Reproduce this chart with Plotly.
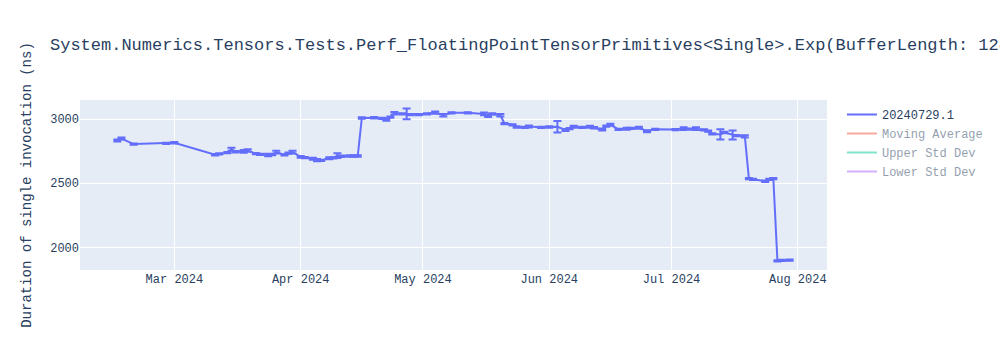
import plotly.graph_objects as go

dates = [
    "2024-02-16", "2024-02-17", "2024-02-20", "2024-02-28", "2024-03-01",
    "2024-03-11", "2024-03-12", "2024-03-14", "2024-03-15", "2024-03-16",
    "2024-03-18", "2024-03-19", "2024-03-21", "2024-03-22", "2024-03-24",
    "2024-03-25", "2024-03-26", "2024-03-28", "2024-03-29", "2024-03-30",
    "2024-04-01", "2024-04-02", "2024-04-04", "2024-04-05", "2024-04-06",
    "2024-04-08", "2024-04-09", "2024-04-10", "2024-04-11", "2024-04-13",
    "2024-04-14", "2024-04-15", "2024-04-16", "2024-04-19", "2024-04-21",
    "2024-04-22", "2024-04-23", "2024-04-24", "2024-04-26", "2024-04-27",
    "2024-04-28", "2024-04-30", "2024-05-02", "2024-05-04", "2024-05-06",
    "2024-05-08", "2024-05-12", "2024-05-16", "2024-05-17", "2024-05-18",
    "2024-05-20", "2024-05-21", "2024-05-23", "2024-05-24", "2024-05-26",
    "2024-05-27", "2024-05-30", "2024-06-01", "2024-06-03", "2024-06-05",
    "2024-06-06", "2024-06-07", "2024-06-09", "2024-06-11", "2024-06-12",
    "2024-06-14", "2024-06-15", "2024-06-16", "2024-06-18", "2024-06-20",
    "2024-06-21", "2024-06-23", "2024-06-25", "2024-06-27", "2024-07-02",
    "2024-07-04", "2024-07-06", "2024-07-07", "2024-07-09", "2024-07-10",
    "2024-07-11", "2024-07-13", "2024-07-14", "2024-07-16", "2024-07-17",
    "2024-07-19", "2024-07-20", "2024-07-21", "2024-07-24", "2024-07-25",
    "2024-07-26", "2024-07-27", "2024-07-28", "2024-07-30",
]

durations = [
    2832, 2848, 2805, 2810, 2815,
    2722, 2728, 2738, 2765, 2745,
    2748, 2755, 2730, 2725, 2720,
    2722, 2742, 2720, 2735, 2742,
    2705, 2700, 2690, 2680, 2678,
    2695, 2698, 2715, 2710, 2712,
    2712, 2712, 3008, 3010, 3005,
    2995, 3015, 3045, 3040, 3040,
    3035, 3035, 3040, 3050, 3030,
    3048, 3048, 3040, 3025, 3040,
    3030, 2965, 2955, 2938, 2935,
    2942, 2935, 2938, 2940, 2915,
    2925, 2940, 2935, 2940, 2932,
    2918, 2945, 2955, 2920, 2925,
    2928, 2932, 2905, 2920, 2918,
    2925, 2922, 2925, 2915, 2905,
    2885, 2880, 2895, 2875, 2870,
    2865, 2535, 2530, 2515, 2530,
    2535, 1895, 1898, 1900,
]

errors = [
    8, 8, 5, 5, 6,
    6, 5, 5, 12, 5,
    10, 10, 5, 5, 10,
    5, 10, 5, 5, 10,
    6, 5, 8, 8, 5,
    8, 5, 18, 5, 5,
    5, 5, 5, 5, 5,
    8, 5, 10, 5, 42,
    5, 5, 5, 8, 10,
    5, 5, 10, 10, 5,
    10, 5, 5, 5, 5,
    8, 5, 6, 45, 8,
    5, 8, 5, 8, 5,
    8, 5, 8, 5, 8,
    5, 8, 8, 5, 5,
    10, 5, 10, 5, 5,
    5, 40, 5, 35, 5,
    8, 5, 5, 6, 5,
    5, 5, 5, 5,
]

series_name = "20240729.1"
title_text = "System.Numerics.Tensors.Tests.Perf_FloatingPointTensorPrimitives<Single>.Exp(BufferLength: 128)"
y_title = "Duration of single invocation (ns)"

fig = go.Figure()
fig.add_trace(go.Scatter(
    x=dates, y=durations, mode="lines", name=series_name,
    line=dict(color="#636efa", width=2),
    error_y=dict(type="data", array=errors, visible=True, color="#636efa"),
))
fig.add_trace(go.Scatter(x=dates, y=durations, mode="lines", name="Moving Average",
                         line=dict(color="#EF553B"), visible="legendonly"))
fig.add_trace(go.Scatter(x=dates, y=durations, mode="lines", name="Upper Std Dev",
                         line=dict(color="#00cc96"), visible="legendonly"))
fig.add_trace(go.Scatter(x=dates, y=durations, mode="lines", name="Lower Std Dev",
                         line=dict(color="#ab63fa"), visible="legendonly"))

fig.update_layout(
    width=1000, height=350,
    font=dict(family="Courier New, Liberation Mono, monospace"),
    title=dict(text=title_text),
    yaxis=dict(title=dict(text=y_title)),
    template="plotly",
)

fig.write_html("out.html")
